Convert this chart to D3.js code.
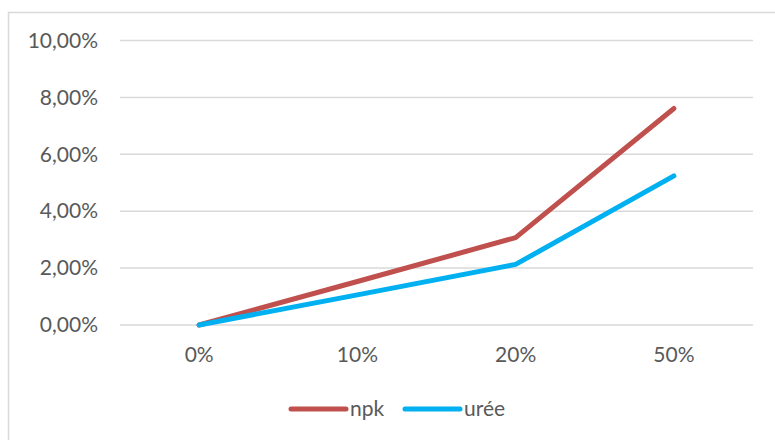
<!DOCTYPE html>
<html>
<head>
<meta charset="utf-8">
<script src="https://cdn.jsdelivr.net/npm/d3@7"></script>
<style>
  html, body { margin: 0; padding: 0; background: #fff; }
  svg { display: block; }
  text { font-family: Lato, "Open Sans", sans-serif; fill: #595959; }
</style>
</head>
<body>
<svg id="chart" width="775" height="440"></svg>
<script>
// Dose categories along the x axis
const categories = ["0%", "10%", "20%", "50%"];
// Series values (fractions)
const npk  = [0.0, 0.0153, 0.0307, 0.0761];
const uree = [0.0, 0.0106, 0.0213, 0.0524];
// Y tick values
const yTicks = [0, 0.02, 0.04, 0.06, 0.08, 0.10];

const series = [
  { name: "npk",  values: npk,  color: "#C0504D" },
  { name: "urée", values: uree, color: "#00B0F0" }
];

const svg = d3.select("#chart");
const fmt = v => d3.format(".2f")(v * 100).replace(".", ",") + "%";

// outer chart frame
svg.append("rect")
  .attr("x", 8.5).attr("y", 12.5)
  .attr("width", 800).attr("height", 460)
  .attr("fill", "#fff")
  .attr("stroke", "#d9d9d9").attr("stroke-width", 1.5);

const x = d3.scaleBand().domain(categories).range([120, 753]);
const y = d3.scaleLinear().domain([0, 0.10]).range([325, 40.5]);

// horizontal gridlines
svg.append("g").selectAll("line").data(yTicks).join("line")
  .attr("x1", 120).attr("x2", 753)
  .attr("y1", d => y(d)).attr("y2", d => y(d))
  .attr("stroke", "#d9d9d9").attr("stroke-width", 1.5);

// y axis labels
const yAxis = d3.axisLeft(y).tickValues(yTicks).tickFormat(fmt).tickSize(0).tickPadding(0);
const gy = svg.append("g").attr("transform", "translate(98,0)").call(yAxis);
gy.select(".domain").remove();
gy.selectAll("text").attr("font-size", 21).attr("fill", "#595959")
  .style("font-family", "Lato, 'Open Sans', sans-serif");

// x axis labels
const xAxis = d3.axisBottom(x).tickSize(0).tickPadding(0);
const gx = svg.append("g").attr("transform", "translate(0,347)").call(xAxis);
gx.select(".domain").remove();
gx.selectAll("text").attr("font-size", 21).attr("fill", "#595959")
  .style("font-family", "Lato, 'Open Sans', sans-serif");

// series lines
const line = d3.line()
  .x((d, i) => x(categories[i]) + x.bandwidth() / 2)
  .y(d => y(d));

svg.append("g").selectAll("path").data(series).join("path")
  .attr("d", s => line(s.values))
  .attr("fill", "none")
  .attr("stroke", s => s.color)
  .attr("stroke-width", 5)
  .attr("stroke-linecap", "round")
  .attr("stroke-linejoin", "round");

// legend
const legendPos = [{ x1: 291, x2: 346, tx: 350 }, { x1: 405, x2: 460, tx: 464 }];
const lg = svg.append("g");
series.forEach((s, i) => {
  const p = legendPos[i];
  lg.append("line")
    .attr("x1", p.x1).attr("x2", p.x2).attr("y1", 409).attr("y2", 409)
    .attr("stroke", s.color).attr("stroke-width", 5).attr("stroke-linecap", "round");
  lg.append("text")
    .attr("x", p.tx).attr("y", 409).attr("dy", "0.35em")
    .attr("font-size", 21).text(s.name);
});
</script>
</body>
</html>
